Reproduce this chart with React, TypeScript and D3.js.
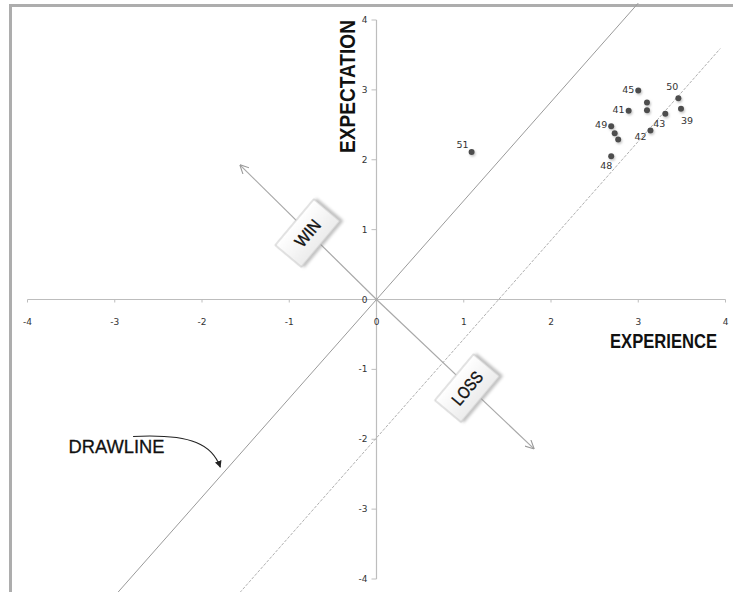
import React from "react";
import * as d3 from "d3";

const W = 733;
const H = 592;

// Axis ticks
const xTicks = [-4, -3, -2, -1, 0, 1, 2, 3, 4];
const yTicks = [-4, -3, -2, -1, 0, 1, 2, 3, 4];

// Data points (EXPERIENCE, EXPECTATION)
const pointIds = ["45", "", "", "50", "39", "43", "41", "49", "", "", "42", "48", "51"];
const experience = [3.0, 3.1, 3.1, 3.46, 3.49, 3.31, 2.89, 2.69, 2.73, 2.77, 3.14, 2.69, 1.09];
const expectation = [2.99, 2.82, 2.71, 2.88, 2.73, 2.66, 2.7, 2.48, 2.38, 2.29, 2.42, 2.05, 2.11];
// label placement codes
const labelPlace = ["left", "", "", "above", "belowRight", "belowLeft", "left", "left", "", "", "belowLeft2", "below", "aboveLeft"];

// Draw lines: y = slope * x + intercept
const drawSlope = 1.414;
const drawIntercepts = [0, -1.98];
const drawXFrom = [-3.0, -1.6];
const drawXTo = [3.0, 3.94];

// WIN / LOSS arrows (from origin)
const arrowLabels = ["WIN", "LOSS"];
const arrowTipX = [-1.56, 1.8];
const arrowTipY = [1.92, -2.13];
const boxCenterX = [-0.79, 1.04];
const boxCenterY = [0.95, -1.27];

// DRAWLINE annotation
const drawLabelX = -3.53;
const drawLabelY = -2.20;
const drawArrowFrom = [-2.79, -1.96];
const drawArrowTo = [-1.79, -2.40];

export default function App() {
  const x = d3.scaleLinear().domain([-4, 4]).range([27.5, 725.5]);
  const y = d3.scaleLinear().domain([-4, 4]).range([579, 20]);
  const x0 = x(0);
  const y0 = y(0);

  const labelOffset = (p: string) => {
    switch (p) {
      case "left": return { dx: -4, dy: 2, anchor: "end" };
      case "above": return { dx: -6, dy: -8, anchor: "middle" };
      case "belowRight": return { dx: 6, dy: 15, anchor: "middle" };
      case "belowLeft": return { dx: -6, dy: 13, anchor: "middle" };
      case "belowLeft2": return { dx: -10, dy: 10, anchor: "middle" };
      case "below": return { dx: -5, dy: 13, anchor: "middle" };
      case "aboveLeft": return { dx: -9, dy: -4, anchor: "middle" };
      default: return { dx: 0, dy: 0, anchor: "middle" };
    }
  };

  const fa = [x(drawArrowFrom[0]), y(drawArrowFrom[1])];
  const ta = [x(drawArrowTo[0]), y(drawArrowTo[1])];
  const curve = `M${fa[0]},${fa[1]} C${fa[0] + 60},${fa[1] - 3} ${ta[0] - 8},${ta[1] - 22} ${ta[0]},${ta[1]}`;

  return (
    <div style={{ position: "absolute", left: 0, top: 0 }}>
      <svg width={W} height={H} style={{ display: "block", background: "#fff" }}>
        <defs>
          <marker id="arr" viewBox="0 0 10 10" refX="9" refY="5" markerWidth="9" markerHeight="9" orient="auto-start-reverse" markerUnits="userSpaceOnUse">
            <path d="M0,0 L10,5 L0,10" fill="none" stroke="#999" strokeWidth="1.2" />
          </marker>
          <marker id="arrBlack" viewBox="0 0 10 10" refX="9" refY="5" markerWidth="7" markerHeight="7" orient="auto" markerUnits="userSpaceOnUse">
            <path d="M0,0 L10,5 L0,10 z" fill="#222" />
          </marker>
          <filter id="shadow" x="-30%" y="-30%" width="160%" height="160%">
            <feDropShadow dx="2" dy="2" stdDeviation="1.5" floodColor="#888" floodOpacity="0.6" />
          </filter>
          <filter id="ptShadow" x="-50%" y="-50%" width="200%" height="200%">
            <feDropShadow dx="1" dy="1.5" stdDeviation="1" floodColor="#999" floodOpacity="0.6" />
          </filter>
          <linearGradient id="boxGrad" x1="0" y1="0" x2="0" y2="1">
            <stop offset="0" stopColor="#ffffff" />
            <stop offset="1" stopColor="#ececec" />
          </linearGradient>
        </defs>

        {/* frame */}
        <line x1={10} y1={5.5} x2={W} y2={5.5} stroke="#adadad" strokeWidth={3} />
        <line x1={10.5} y1={4} x2={10.5} y2={H} stroke="#adadad" strokeWidth={3} />

        {/* axes */}
        <line x1={x(-4)} y1={y0} x2={x(4)} y2={y0} stroke="#bdbdbd" strokeWidth={1} />
        <line x1={x0} y1={y(4)} x2={x0} y2={y(-4)} stroke="#bdbdbd" strokeWidth={1.2} />
        {xTicks.map((t) => (
          <g key={"xt" + t}>
            <line x1={x(t)} y1={y0} x2={x(t)} y2={y0 + 3} stroke="#bdbdbd" />
            <text x={x(t)} y={y0 + 25} textAnchor="middle" fontFamily="DejaVu Sans" fontSize={9} fill="#333">{t}</text>
          </g>
        ))}
        {yTicks.map((t) => (
          <g key={"yt" + t}>
            <line x1={x0 - 5} y1={y(t)} x2={x0} y2={y(t)} stroke="#bdbdbd" />
            <text x={x0 - 9} y={y(t) + 3} textAnchor="end" fontFamily="DejaVu Sans" fontSize={9} fill="#333">{t}</text>
          </g>
        ))}

        {/* draw lines */}
        {drawIntercepts.map((b, i) => (
          <line
            key={"dl" + i}
            x1={x(drawXFrom[i])}
            y1={y(drawSlope * drawXFrom[i] + b)}
            x2={x(drawXTo[i])}
            y2={y(drawSlope * drawXTo[i] + b)}
            stroke={i === 0 ? "#9a9a9a" : "#b0b0b0"}
            strokeWidth={1}
            strokeDasharray={i === 0 ? undefined : "3,1.5"}
          />
        ))}

        {/* WIN / LOSS arrows */}
        {arrowLabels.map((lab, i) => (
          <line key={"ar" + i} x1={x0} y1={y0} x2={x(arrowTipX[i])} y2={y(arrowTipY[i])} stroke="#a8a8a8" strokeWidth={1.2} markerEnd="url(#arr)" />
        ))}
        {arrowLabels.map((lab, i) => (
          <g key={"bx" + i} transform={`translate(${x(boxCenterX[i])},${y(boxCenterY[i])}) rotate(-50)`}>
            <rect x={-30} y={-17} width={60} height={34} fill="url(#boxGrad)" stroke="#c8c8c8" strokeWidth={1} filter="url(#shadow)" />
            <text x={0} y={6} textAnchor="middle" fontFamily="Liberation Sans" fontSize={17} fill="#111" stroke="#111" strokeWidth={0.4} textLength={lab === "WIN" ? 30 : 38} lengthAdjust="spacingAndGlyphs">{lab}</text>
          </g>
        ))}

        {/* points */}
        {experience.map((v, i) => (
          <circle key={"p" + i} cx={x(v)} cy={y(expectation[i])} r={3} fill="#4d4d4d" filter="url(#ptShadow)" />
        ))}
        {pointIds.map((id, i) => {
          if (!id) return null;
          const o = labelOffset(labelPlace[i]);
          return (
            <text key={"pl" + i} x={x(experience[i]) + o.dx} y={y(expectation[i]) + o.dy} textAnchor={o.anchor} fontFamily="DejaVu Sans" fontSize={9.5} fill="#333">{id}</text>
          );
        })}

        {/* axis titles */}
        <text transform="translate(610,348) scale(0.8,1)" x={0} y={0} fontFamily="Liberation Sans" fontWeight="bold" fontSize={21} fill="#111" textLength={133.75} lengthAdjust="spacingAndGlyphs">EXPERIENCE</text>
        <text transform={`translate(355,86.5) rotate(-90)`} textAnchor="middle" fontFamily="Liberation Sans" fontWeight="bold" fontSize={22} fill="#111" textLength={133} lengthAdjust="spacingAndGlyphs">EXPECTATION</text>

        {/* DRAWLINE annotation */}
        <text x={x(drawLabelX)} y={y(drawLabelY)} fontFamily="Liberation Sans" fontSize={19} fill="#111" stroke="#111" strokeWidth={0.3} textLength={96} lengthAdjust="spacingAndGlyphs">DRAWLINE</text>
        <path d={curve} fill="none" stroke="#222" strokeWidth={1.1} markerEnd="url(#arrBlack)" />
      </svg>
    </div>
  );
}
